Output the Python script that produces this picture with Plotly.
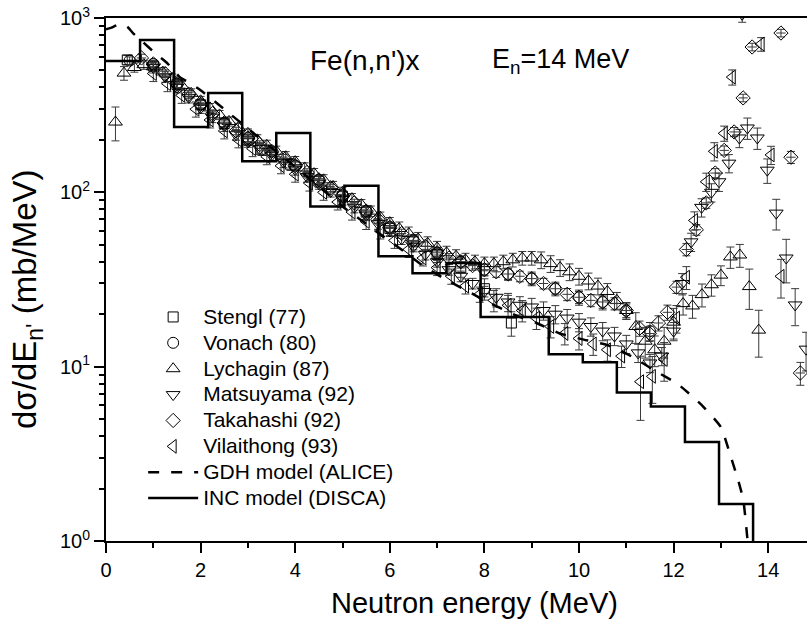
import plotly.graph_objects as go

# ---- measured spectra: energy (MeV), d(sigma)/dE (mb/MeV), relative error (%) ----
stengl_e = [0.45, 1.0, 1.5, 2.0, 2.5, 3.0, 3.3, 3.9, 4.5, 5.0, 5.5, 6.0, 6.5, 7.0, 7.5, 8.0, 8.57]
stengl_v = [575, 530, 415, 318, 248, 200, 175, 145, 116, 95, 77, 62, 52, 44, 37, 28, 17.8]
stengl_err = [6, 6, 6, 6, 7, 7, 7, 8, 8, 8, 9, 9, 10, 10, 12, 14, 16]

vonach_e = [0.5, 1.0, 1.5, 2.0, 2.5, 3.0, 3.5, 4.0, 4.5, 5.0, 5.5, 6.0, 6.5, 7.0, 7.5, 8.0,
            8.5, 9.0, 9.5, 10.0, 10.5, 11.0, 11.5]
vonach_v = [570, 545, 420, 320, 250, 205, 172, 142, 118, 96, 78, 63, 53, 45, 40, 36,
            34, 32, 28, 25, 23.5, 21, 16]
vonach_err = [5, 5, 5, 5, 5, 5, 5, 6, 6, 6, 6, 7, 7, 7, 8, 8, 8, 9, 9, 10, 10, 11, 12]

lych_e = [0.2, 0.38, 0.6, 0.8, 1.0, 1.2, 1.4, 1.6, 1.8, 2.0, 2.2, 2.4, 2.6, 2.8, 3.0, 3.2, 3.4,
          3.6, 3.8, 4.0, 4.2, 4.4, 4.6, 4.8, 5.0, 5.2, 5.4, 5.6, 5.8, 6.0, 6.2, 6.4, 6.6, 6.8,
          7.0, 7.2, 7.4, 7.6, 7.8, 8.0, 8.2, 8.4, 8.6, 8.8, 9.0, 9.2, 9.4, 9.6, 9.8, 10.0, 10.2,
          10.4, 10.6, 10.8, 11.0, 11.2, 11.4, 11.6, 11.8, 12.0, 12.2, 12.4, 12.6, 12.8, 13.0,
          13.2, 13.4, 13.6, 13.8]
lych_v = [253, 483, 520, 540, 525, 490, 450, 410, 370, 335, 305, 278, 255, 235, 218, 200, 186,
          172, 160, 150, 138, 128, 118, 108, 100, 92, 85, 78, 72, 67, 62, 58, 54, 51,
          48, 45, 43, 41, 40, 39, 39, 40, 41, 42, 42, 41, 39, 37, 35, 33, 31,
          29, 27, 24, 21, 17, 14, 12.5, 14, 18, 23, 22.3, 25.9, 29.5, 33.5,
          42.6, 43.7, 28.8, 16.2]
lych_err = [22, 9, 6, 6, 6, 6, 6, 6, 6, 6, 6, 6, 6, 6, 6, 7, 7,
            7, 7, 7, 7, 7, 7, 7, 7, 7, 7, 7, 7, 7, 9, 9, 9, 9,
            9, 9, 9, 9, 9, 9, 9, 9, 9, 9, 9, 11, 11, 11, 11, 11, 11,
            11, 11, 11, 11, 20, 20, 20, 20, 20, 14, 15, 15, 14, 13,
            14, 15, 26, 30]

matsu_e = [1.0, 1.25, 1.5, 1.75, 2.0, 2.25, 2.5, 2.75, 3.0, 3.25, 3.5, 3.75, 4.0, 4.25, 4.5,
           4.75, 5.0, 5.25, 5.5, 5.75, 6.0, 6.25, 6.5, 6.75, 7.0, 7.25, 7.5, 7.75, 8.0, 8.25,
           8.5, 8.75, 9.0, 9.25, 9.5, 9.75, 10.0, 10.25, 10.5, 10.75, 11.0, 11.25, 11.5, 11.75,
           12.0, 12.18, 12.37, 12.59, 12.8, 12.96, 13.17, 13.39, 13.45, 13.56, 13.77, 13.98,
           14.17, 14.38, 14.57, 14.8]
matsu_v = [520, 460, 400, 350, 305, 270, 240, 214, 195, 178, 163, 149, 135, 123, 112,
           101, 91, 82, 74, 66, 60, 54, 49, 44, 40, 36, 33, 30, 27, 25,
           23.5, 22.5, 22, 21, 20, 19, 18, 17, 16, 15, 13.5, 12, 10.5, 11.5,
           16, 30, 52, 82, 100, 115, 147, 205, 1050, 234, 205, 134,
           76, 42, 22.6, 12.6]
matsu_err = [7, 7, 7, 7, 7, 7, 7, 7, 7, 7, 7, 7, 7, 7, 7,
             7, 7, 7, 7, 7, 7, 7, 7, 7, 7, 7, 7, 7, 7, 12,
             12, 12, 12, 12, 12, 12, 12, 12, 12, 12, 12, 12, 12, 12,
             12, 14, 12, 12, 12, 12, 12, 12, 10, 14, 14, 16,
             20, 28, 24, 25]

taka_e = [0.75, 1.0, 1.25, 1.5, 1.75, 2.0, 2.25, 2.5, 2.75, 3.0, 3.25, 3.5, 3.75, 4.0, 4.25,
          4.5, 4.75, 5.0, 5.25, 5.5, 5.75, 6.0, 6.25, 6.5, 6.75, 7.0, 7.25, 7.5, 7.75, 8.0,
          8.25, 8.5, 8.75, 9.0, 9.25, 9.5, 9.75, 10.0, 10.25, 10.5, 10.75, 11.0,
          11.28, 11.49, 11.68, 11.87, 12.06, 12.27, 12.48, 12.69, 12.88, 13.07, 13.28, 13.47,
          13.66, 14.27, 14.48, 14.68]
taka_v = [590, 545, 480, 420, 365, 320, 283, 250, 225, 205, 188, 172, 157, 142, 130,
          118, 106, 96, 87, 78, 70, 63, 58, 53, 49, 45, 42, 40, 38, 36,
          35, 34, 33, 32, 30, 28, 26, 25, 24, 23.5, 23, 21,
          16.6, 15.5, 17.8, 20.5, 28.6, 47, 61, 87, 129, 174, 222, 348,
          682, 820, 159, 9.2]
taka_err = [5, 5, 5, 5, 5, 5, 5, 5, 5, 5, 5, 5, 5, 5, 5,
            5, 5, 5, 5, 5, 5, 6, 6, 6, 6, 6, 6, 6, 6, 7,
            7, 7, 7, 7, 7, 7, 8, 8, 8, 8, 8, 9,
            10, 10, 10, 10, 8, 8, 7, 7, 6, 6, 6, 5,
            5, 5, 8, 15]

vila_e = [1.0, 1.3, 1.6, 1.9, 2.2, 2.5, 2.8, 3.1, 3.4, 3.7, 4.0, 4.3, 4.6, 4.9, 5.2, 5.5, 5.8,
          6.1, 6.4, 6.7, 7.0, 7.3, 7.6, 7.9, 8.2, 8.5, 8.8, 9.1, 9.4, 9.7, 10.0, 10.3, 10.6,
          10.9, 11.3, 11.55, 11.8, 12.06, 12.27, 12.44, 12.69, 12.86, 13.07, 13.24, 13.55,
          13.85, 14.06, 14.27]
vila_v = [480, 420, 360, 300, 260, 225, 200, 178, 160, 142, 127, 113, 100, 88, 77, 68, 60,
          53, 47, 42, 37, 33, 29, 26, 24, 22.5, 21, 19, 17, 15.5, 14.5, 13.5, 12.5,
          11.5, 8.2, 8.8, 11, 19, 32.6, 69, 115, 172, 218, 458, 1100,
          708, 164, 33]
vila_err = [10, 10, 10, 10, 10, 10, 10, 10, 10, 10, 10, 10, 10, 10, 10, 10, 10,
            10, 10, 10, 10, 10, 10, 10, 14, 14, 14, 14, 14, 14, 14, 14, 14,
            14, 40, 30, 25, 18, 15, 12, 12, 12, 10, 10, 8,
            9, 12, 25]

# ---- model calculations ----
gdh_e = [0.0, 0.1, 0.3, 0.45, 0.57, 0.78, 1.08, 1.29, 1.56, 1.77, 2.0, 2.5, 3.0, 3.5, 4.0,
         4.5, 5.0, 5.6, 6.2, 6.7, 7.15, 7.6, 8.15, 8.7, 9.1, 9.6, 10.1, 10.6, 11.1, 11.6,
         12.1, 12.6, 13.0, 13.2, 13.35, 13.47, 13.58]
gdh_v = [860, 877, 924, 890, 820, 728, 614, 552, 458, 424, 385, 300, 232, 180, 140,
         108, 83, 63, 48, 38, 32, 27.5, 22.9, 19.5, 17.8, 15.5, 14.3, 13.3, 11.5, 9.5,
         7.9, 6.0, 4.5, 3.1, 2.3, 1.74, 0.9]

inc_edges = [0, 0.72, 1.44, 2.16, 2.88, 3.6, 4.32, 5.04, 5.76, 6.48, 7.2, 7.92, 8.64, 9.36,
             10.08, 10.8, 11.52, 12.24, 12.96, 13.68]
inc_v = [567, 748, 237, 371, 151, 219, 83, 109, 43, 34.4, 39.3, 19.3, 19.3, 11.8,
         10.6, 7.1, 5.9, 3.7, 1.63, 0.5]

# ---- axis ticks ----
y_tickvals = [1, 10, 100, 1000]
y_ticktext = ["10<sup>0</sup>", "10<sup>1</sup>", "10<sup>2</sup>", "10<sup>3</sup>"]
y_minor_vals = [2, 3, 4, 5, 6, 7, 8, 9,
                20, 30, 40, 50, 60, 70, 80, 90,
                200, 300, 400, 500, 600, 700, 800, 900]

FONT = "Liberation Sans, Arial, sans-serif"
ERR_COLOR = "#3a3a3a"


def legend_name(text):
    return '<span style="font-size:21px">' + text + "</span>"


def data_trace(name, e, v, err, symbol, size, xerr=None):
    err_abs = [val * p / 100.0 for val, p in zip(v, err)]
    tr = go.Scatter(
        x=e, y=v, mode="markers", name=legend_name(name),
        marker=dict(symbol=symbol, size=size, color="black",
                    line=dict(color="black", width=1)),
        error_y=dict(type="data", array=err_abs, visible=True,
                     color=ERR_COLOR, thickness=1, width=4),
    )
    if xerr is not None:
        tr.error_x = dict(type="constant", value=xerr, visible=True,
                          color=ERR_COLOR, thickness=1, width=0)
    return tr


fig = go.Figure()
fig.add_trace(data_trace("Stengl (77)", stengl_e, stengl_v, stengl_err, "square-open", 10))
fig.add_trace(data_trace("Vonach (80)", vonach_e, vonach_v, vonach_err, "circle-open", 11))
fig.add_trace(data_trace("Lychagin (87)", lych_e, lych_v, lych_err, "triangle-up-open", 12))
fig.add_trace(data_trace("Matsuyama (92)", matsu_e, matsu_v, matsu_err, "triangle-down-open", 12))
fig.add_trace(data_trace("Takahashi (92)", taka_e, taka_v, taka_err, "diamond-open", 11, xerr=0.1))
fig.add_trace(data_trace("Vilaithong (93)", vila_e, vila_v, vila_err, "triangle-left-open", 12))

fig.add_trace(go.Scatter(
    x=gdh_e, y=gdh_v, mode="lines", name=legend_name("GDH model (ALICE)"),
    line=dict(color="black", width=2.5, dash="11px,12px", shape="spline", smoothing=0.5),
))
fig.add_trace(go.Scatter(
    x=inc_edges, y=inc_v, mode="lines", name=legend_name("INC model (DISCA)"),
    line=dict(color="black", width=2.5, shape="hv"),
))

fig.update_layout(
    width=807, height=625,
    margin=dict(l=106, r=0, t=18, b=84),
    paper_bgcolor="white", plot_bgcolor="white",
    font=dict(family=FONT, color="black", size=20),
    showlegend=True,
    legend=dict(x=0.053, y=0.4627, xanchor="left", yanchor="top",
                bgcolor="rgba(0,0,0,0)", borderwidth=0,
                font=dict(size=17.6, family=FONT), itemwidth=50, tracegroupgap=0),
    xaxis=dict(
        range=[0, 14.82], tick0=0, dtick=2,
        showline=True, linewidth=2, linecolor="black", mirror=True,
        ticks="outside", ticklen=10, tickwidth=2, tickcolor="black",
        showgrid=False, zeroline=False,
        tickfont=dict(size=20, family=FONT),
        minor=dict(ticks="outside", ticklen=5, tickwidth=2, tickcolor="black",
                   tick0=0, dtick=1, showgrid=False),
    ),
    yaxis=dict(
        type="log", range=[0, 3],
        tickmode="array", tickvals=y_tickvals, ticktext=y_ticktext,
        showline=True, linewidth=2, linecolor="black", mirror=False,
        ticks="outside", ticklen=10, tickwidth=2, tickcolor="black",
        showgrid=False, zeroline=False,
        tickfont=dict(size=20, family=FONT),
        minor=dict(ticks="outside", ticklen=5, tickwidth=2, tickcolor="black",
                   tickmode="array", tickvals=y_minor_vals, showgrid=False),
    ),
    annotations=[
        dict(text="Fe(n,n')x", x=0.3695, y=0.9178, xref="paper", yref="paper",
             xanchor="center", yanchor="middle", showarrow=False,
             font=dict(size=28, family=FONT)),
        dict(text="E<sub>n</sub>=14 MeV", x=0.5478, y=0.9178, xref="paper", yref="paper",
             xanchor="left", yanchor="middle", showarrow=False,
             font=dict(size=27, family=FONT)),
        dict(text="Neutron energy (MeV)", x=0.526, y=-0.1185, xref="paper", yref="paper",
             xanchor="center", yanchor="middle", showarrow=False,
             font=dict(size=29, family=FONT)),
        dict(text="dσ/dE<sub>n'</sub> (mb/MeV)", x=-0.1127, y=0.4627,
             xref="paper", yref="paper", xanchor="center", yanchor="middle",
             textangle=-90, showarrow=False, font=dict(size=33, family=FONT)),
    ],
)

fig.write_html("out.html")
